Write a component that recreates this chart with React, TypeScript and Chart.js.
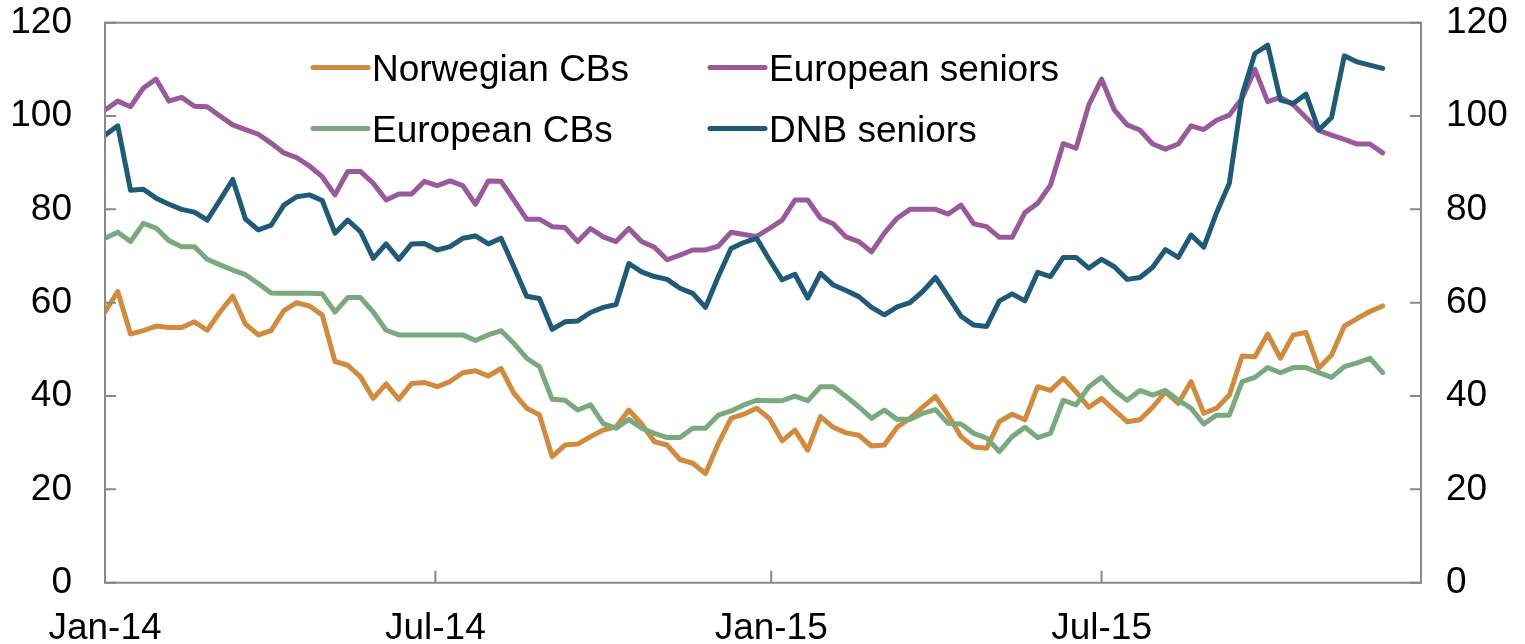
import { useEffect, useRef } from "react";
import { Chart, registerables } from "chart.js";

Chart.register(...registerables);

// ---- Data (weekly observations, starting first week of Jan 2014) ----
const seriesNames = ["Norwegian CBs", "European seniors", "European CBs", "DNB seniors"];
const seriesColors = ["#D08B3E", "#985A9A", "#79A97C", "#1F5A77"];

const norwegianCBs = [
  58, 62.4, 53.3, 54, 55, 54.7, 54.7, 55.9, 54.1, 58, 61.4, 55.4, 53.1, 54, 58.3, 60, 59.3, 57.4,
  47.4, 46.6, 44.1, 39.5, 42.6, 39.3, 42.7, 42.9, 42, 43.1, 45, 45.4, 44.3, 45.9, 40.6, 37.4, 36,
  27, 29.5, 29.7, 31.3, 32.7, 33.4, 37, 34, 30.2, 29.5, 26.4, 25.6, 23.4, 29.8, 35.2, 36.1, 37.4,
  35.2, 30.4, 32.7, 28.4, 35.6, 33.3, 32.1, 31.6, 29.3, 29.5, 33.3, 35.2, 37.6, 39.9, 35.9, 31.3, 29.1,
  28.8, 34.5, 36.1, 34.9, 42, 41.2, 43.8, 40.9, 37.6, 39.5, 37, 34.5, 34.9, 37.6, 40.9, 38.4, 43.1,
  36.3, 37.4, 40.2, 48.6, 48.4, 53.3, 48.1, 53.1, 53.6, 46, 48.8, 55, 56.6, 58.1, 59.3,
];

const europeanSeniors = [
  101.3, 103.2, 102, 106, 107.9, 103.2, 104, 102.1, 102, 100, 98.1, 97.1, 96.1, 94.2, 92.1, 91.1, 89.3, 87,
  83.1, 88.1, 88.1, 85.6, 82, 83.3, 83.3, 86, 85.1, 86.1, 85.1, 81.1, 86.1, 86, 82, 77.9, 77.9,
  76.3, 76.1, 73.1, 75.9, 74.1, 73.1, 75.9, 73.1, 71.9, 69.2, 70.2, 71.3, 71.3, 72.1, 75.1, 74.6, 74.2,
  75.9, 77.7, 82, 82, 78.1, 76.9, 74.1, 73.1, 70.9, 74.9, 78.1, 80, 80, 80, 79, 80.9, 76.9,
  76.3, 74, 74, 79.3, 81.3, 85.2, 94.1, 93.1, 102.4, 107.9, 101.3, 98.1, 97, 94, 92.9, 94, 97.9,
  97.1, 99.1, 100.2, 103.8, 110, 103.1, 104, 102.4, 99.7, 96.9, 95.9, 95, 94, 94, 92.1,
];

const europeanCBs = [
  73.8, 75.1, 73.1, 77, 76, 73.3, 72, 72, 69.3, 68.1, 67, 66, 64.1, 62.1, 62, 62, 62, 61.9,
  58, 61.1, 61.1, 58, 54.1, 53.1, 53.1, 53.1, 53.1, 53.1, 53.1, 51.9, 53.1, 54, 51.3, 48.1, 46.3,
  39.3, 39.1, 37, 38.1, 34.1, 33.1, 35, 33.1, 32, 31.1, 31.1, 33.1, 33.1, 35.9, 36.8, 38.1, 39.1,
  39, 39, 40, 39, 42, 42, 39.9, 37.7, 35.2, 37, 35, 35, 36.3, 37.1, 34.1, 34, 32,
  31, 28.1, 31.3, 33.3, 31.1, 32, 39.1, 38.1, 42, 44, 41.2, 39.1, 41.2, 40.2, 41.2, 39.1, 37.4,
  34, 35.9, 35.9, 43.1, 44, 46.1, 45, 46.1, 46.1, 45, 44, 46.3, 47.1, 48.1, 45,
];

const dnbSeniors = [
  95.9, 97.9, 84.1, 84.3, 82.4, 81.1, 80, 79.4, 77.7, 82, 86.4, 77.9, 75.6, 76.6, 80.9, 82.7, 83.1, 81.9,
  74.9, 77.7, 75.2, 69.5, 72.6, 69.3, 72.6, 72.7, 71.3, 72, 73.8, 74.3, 72.6, 73.8, 67.7, 61.4, 60.9,
  54.3, 55.9, 56.1, 57.9, 59, 59.6, 68.4, 66.6, 65.6, 65, 63.1, 62, 59, 65.6, 71.6, 72.9, 73.8,
  69.2, 64.9, 66.1, 61, 66.3, 63.8, 62.6, 61.3, 59, 57.4, 59.1, 60, 62.4, 65.4, 61.3, 57.1, 55.2,
  54.9, 60.4, 61.9, 60.4, 66.5, 65.6, 69.7, 69.7, 67.4, 69.3, 67.7, 65, 65.4, 67.6, 71.4, 69.7, 74.5,
  71.9, 79.3, 85.6, 104.5, 113.4, 115.2, 103.4, 102.7, 104.7, 97, 99.7, 112.9, 111.6, 110.9, 110.2,
];

const seriesValues = [norwegianCBs, europeanSeniors, europeanCBs, dnbSeniors];
// drawing order: lower = on top
const seriesOrder = [3, 2, 1, 0];

// x axis in days since 1 Jan 2014; one observation per week
const daysPerObservation = 7;
const xAxisMaxDay = 721;
const xTickDays = [0, 181, 365, 546];
const xTickLabels = ["Jan-14", "Jul-14", "Jan-15", "Jul-15"];

const yMin = 0;
const yMax = 120;
const yStep = 20;

const FONT = "'Liberation Sans', Arial, sans-serif";
const FONT_SIZE = 37;
const AXIS_COLOR = "#898989";

const framePlugin = {
  id: "frameAndLegend",
  afterDraw(chart: any) {
    const ctx = chart.ctx as CanvasRenderingContext2D;
    const { left, right, top, bottom } = chart.chartArea;
    const y = chart.scales.y;
    const x = chart.scales.x;
    ctx.save();
    ctx.strokeStyle = AXIS_COLOR;
    ctx.lineWidth = 2;
    ctx.beginPath();
    ctx.rect(left, top, right - left, bottom - top);
    ctx.stroke();
    ctx.beginPath();
    for (let v = yMin; v <= yMax; v += yStep) {
      const py = y.getPixelForValue(v);
      ctx.moveTo(left, py);
      ctx.lineTo(left + 11, py);
      ctx.moveTo(right, py);
      ctx.lineTo(right - 11, py);
    }
    for (const d of xTickDays) {
      const px = x.getPixelForValue(d);
      ctx.moveTo(px, bottom);
      ctx.lineTo(px, bottom - 12);
    }
    ctx.stroke();

    // legend (2 x 2 grid)
    const cols = [313, 710];
    const rows = [67.5, 128.5];
    const lineLen = 55;
    ctx.font = `${FONT_SIZE}px ${FONT}`;
    ctx.textBaseline = "alphabetic";
    ctx.textAlign = "left";
    seriesNames.forEach((name, i) => {
      const cx = cols[i % 2];
      const cy = rows[Math.floor(i / 2)];
      ctx.strokeStyle = seriesColors[i];
      ctx.lineWidth = 5;
      ctx.lineCap = "round";
      ctx.beginPath();
      ctx.moveTo(cx, cy);
      ctx.lineTo(cx + lineLen, cy);
      ctx.stroke();
      ctx.fillStyle = "#000";
      ctx.fillText(name, cx + lineLen + 4, cy + 13);
    });
    ctx.restore();
  },
};

export default function App() {
  const ref = useRef<HTMLCanvasElement | null>(null);

  useEffect(() => {
    document.body.style.margin = "0";
    const canvas = ref.current;
    if (!canvas) return;

    const datasets = seriesNames.map((name, i) => ({
      label: name,
      data: seriesValues[i].map((v, k) => ({ x: k * daysPerObservation, y: v })),
      borderColor: seriesColors[i],
      backgroundColor: seriesColors[i],
      borderWidth: 5,
      pointRadius: 0,
      pointHoverRadius: 0,
      tension: 0,
      borderJoinStyle: "round" as const,
      borderCapStyle: "round" as const,
      order: seriesOrder[i],
      yAxisID: "y",
    }));

    const tickFont = { family: FONT, size: FONT_SIZE };
    const zeroPad = (scale: any) => {
      scale.paddingTop = 0;
      scale.paddingBottom = 0;
      scale.paddingLeft = 0;
      scale.paddingRight = 0;
    };

    const chart = new Chart(canvas, {
      type: "line",
      data: { datasets },
      plugins: [framePlugin],
      options: {
        animation: false,
        responsive: false,
        events: [],
        layout: { padding: { top: 22.7, left: 0, right: 0, bottom: 0 } },
        plugins: { legend: { display: false }, tooltip: { enabled: false } },
        scales: {
          x: {
            type: "linear",
            min: 0,
            max: xAxisMaxDay,
            grid: { display: false, drawTicks: false },
            border: { display: false },
            afterBuildTicks: (scale: any) => {
              scale.ticks = xTickDays.map((d) => ({ value: d }));
            },
            afterFit: (scale: any) => {
              scale.height = 61.3;
              zeroPad(scale);
            },
            ticks: {
              autoSkip: false,
              maxRotation: 0,
              minRotation: 0,
              padding: 24,
              color: "#000",
              font: tickFont,
              callback: (value: any) => {
                const idx = xTickDays.indexOf(Number(value));
                return idx >= 0 ? xTickLabels[idx] : "";
              },
            },
          },
          y: {
            position: "left",
            min: yMin,
            max: yMax,
            grid: { display: false, drawTicks: false },
            border: { display: false },
            afterFit: (scale: any) => {
              scale.width = 105;
              zeroPad(scale);
            },
            ticks: { stepSize: yStep, padding: 33, color: "#000", font: tickFont },
          },
          y2: {
            position: "right",
            min: yMin,
            max: yMax,
            grid: { display: false, drawTicks: false },
            border: { display: false },
            afterFit: (scale: any) => {
              scale.width = 104;
              zeroPad(scale);
            },
            ticks: { stepSize: yStep, padding: 25, color: "#000", font: tickFont },
          },
        },
      },
    });

    return () => chart.destroy();
  }, []);

  return (
    <div style={{ width: 1525, height: 644, background: "#fff" }}>
      <canvas ref={ref} width={1525} height={644} style={{ display: "block" }} />
    </div>
  );
}
